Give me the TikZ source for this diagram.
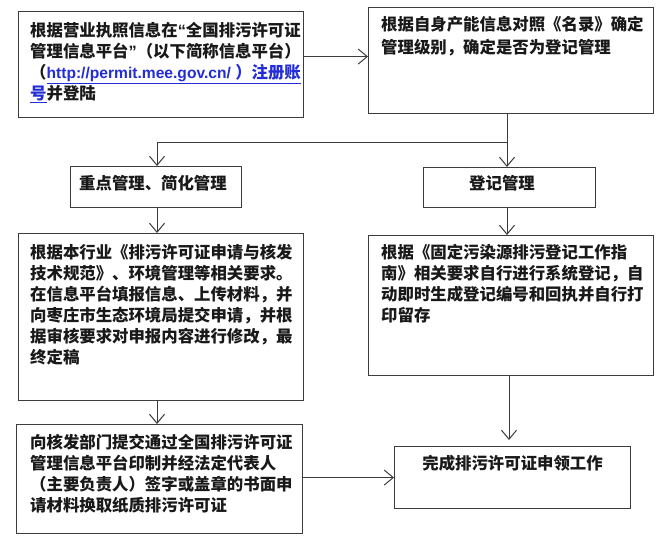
\documentclass[tikz,border=0pt]{standalone}
\usepackage{fontspec}
\setmainfont{Noto Sans CJK SC}
\newfontfamily\lat{Liberation Sans}
\usetikzlibrary{arrows.meta}
\definecolor{linkblue}{RGB}{35,45,215}
\definecolor{edge}{RGB}{60,60,60}
\tikzset{
  box/.style={draw=edge, line width=1.1pt, inner sep=0pt, anchor=north west},
  txt/.style={inner sep=0pt, align=left, font=\fontsize{16.4}{21}\selectfont\bfseries, text=black!90},
  ln/.style={draw=edge, line width=1pt},
  arr/.style={draw=edge, line width=1pt, -{Straight Barb[length=9pt,width=15pt,line width=1pt]}}
}
\begin{document}
\begin{tikzpicture}[x=1pt,y=-1pt]
\useasboundingbox (0,0) rectangle (662,547);
\fill[white] (0,0) rectangle (662,547);
% boxes
\node[box, minimum width=285pt, minimum height=106pt] (b1) at (18,11) {};
\node[box, minimum width=285pt, minimum height=106pt] (b2) at (368,7) {};
\node[box, minimum width=171pt, minimum height=41pt] (b3) at (70,166) {};
\node[box, minimum width=172pt, minimum height=40pt] (b4) at (423,167) {};
\node[box, minimum width=285pt, minimum height=167pt] (b5) at (18,233) {};
\node[box, minimum width=285pt, minimum height=140pt] (b6) at (368,235) {};
\node[box, minimum width=286pt, minimum height=109pt] (b7) at (16,424) {};
\node[box, minimum width=236pt, minimum height=62pt] (b8) at (394,446) {};
% texts
\node[txt, anchor=north west] (t1) at ([shift={(12,11)}]b1.north west)
  {根据营业执照信息在{\lat “}全国排污许可证\\
   管理信息平台{\lat ”}（以下简称信息平台）\\
   （\textcolor{linkblue}{\underline{{\lat\fontsize{15.6}{21}\selectfont http://permit.mee.gov.cn/ }）注册账}}\\
   \textcolor{linkblue}{\underline{号}}并登陆};
\node[txt, anchor=north west, font=\fontsize{16.4}{23}\selectfont\bfseries] (t2) at ([shift={(13,9)}]b2.north west)
  {根据自身产能信息对照《名录》确定\\
   管理级别，确定是否为登记管理};
\node[txt, anchor=west] (t3) at (79,183) {重点管理、简化管理};
\node[txt] (t4) at (502,183) {登记管理};
\node[txt, anchor=north west] (t5) at ([shift={(12,11)}]b5.north west)
  {根据本行业《排污许可证申请与核发\\
   技术规范》、环境管理等相关要求。\\
   在信息平台填报信息、上传材料，并\\
   向枣庄市生态环境局提交申请，并根\\
   据审核要求对申报内容进行修改，最\\
   终定稿};
\node[txt, anchor=north west] (t6) at ([shift={(13,9)}]b6.north west)
  {根据《固定污染源排污登记工作指\\
   南》相关要求自行进行系统登记，自\\
   动即时生成登记编号和回执并自行打\\
   印留存};
\node[txt, anchor=north west] (t7) at ([shift={(14,10)}]b7.north west)
  {向核发部门提交通过全国排污许可证\\
   管理信息平台印制并经法定代表人\\
   （主要负责人）签字或盖章的书面申\\
   请材料换取纸质排污许可证};
\node[txt] (t8) at (b8.center |- 0,463) {完成排污许可证申领工作};
% connectors
\coordinate (jn) at (507,142);
\coordinate (xl) at (157,142);
\coordinate (xr2) at (509,0);
\draw[arr] ([yshift=8pt]b1.east) -- ([yshift=8pt]b1.east -| b2.west);
\draw[ln] (b2.south -| jn) -- (jn);
\draw[arr] (jn) -- (xl) -- (b3.north -| xl);
\draw[arr] (jn) -- (b4.north -| jn);
\draw[arr] (b3.south -| xl) -- (b5.north -| xl);
\draw[arr] (b4.south -| jn) -- (b6.north -| jn);
\draw[arr] (b5.south -| xl) -- (b7.north -| xl);
\draw[arr, shorten >=6pt] (b6.south -| xr2) -- (b8.north -| xr2);
\draw[arr] (b7.east |- b8.west) -- (b8.west);
\end{tikzpicture}
\end{document}
